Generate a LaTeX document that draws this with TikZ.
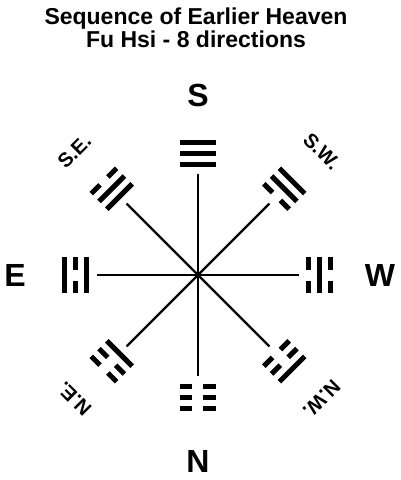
\documentclass[tikz,border=0pt]{standalone}
\usepackage{fontspec}
\setmainfont{Liberation Sans}
\usetikzlibrary{positioning}

\tikzset{
  conn/.style={line width=2.2pt, black},
  yaoline/.style={line width=5pt, black},
  title/.style={font=\fontsize{23}{23}\selectfont\bfseries, anchor=base},
  cardinal/.style={font=\fontsize{32}{32}\selectfont\bfseries},
  diagonal/.style={font=\fontsize{20}{20}\selectfont\bfseries}
}

% one line of a trigram: #1 radius, #2 = 1 solid, 0 broken
\newcommand{\yao}[2]{%
  \ifnum#2=1
    \draw[yaoline] (#1,-18) -- (#1,18);
  \else
    \draw[yaoline] (#1,-18) -- (#1,-5.5);
    \draw[yaoline] (#1,5.5) -- (#1,18);
  \fi}

\begin{document}
\begin{tikzpicture}[x=1pt, y=1pt]

\useasboundingbox (-198,-205) rectangle (202,275);

%title
\node[title] (t1) at (-2,251) {Sequence of Earlier Heaven};
\node[title] (t2) at (-2,228) {Fu Hsi - 8 directions};

%centre and connectors
\coordinate (c) at (0,0);
\foreach \ang in {0,45,...,315}{
  \coordinate (e\ang) at (\ang:101);
  \draw[conn] (c) -- (e\ang);
}

%trigrams, lines listed from inside to outside
\foreach \ang/\a/\b/\c in {90/1/1/1, 45/0/1/1, 0/0/1/0, -45/0/0/1,
                           -90/0/0/0, -135/1/0/0, 180/1/0/1, 135/1/1/0}{
  \begin{scope}[rotate=\ang]
    \yao{111}{\a}
    \yao{122}{\b}
    \yao{133}{\c}
  \end{scope}
}

%labels
\node[cardinal] (s) at (90:180) {S};
\node[cardinal] (n) at (-90:186) {N};
\node[cardinal] (e) at (180:183) {E};
\node[cardinal] (w) at (0:182) {W};
\foreach \ang/\lab in {45/S.W., 135/S.E., -135/N.E., -45/N.W.}{
  \node[diagonal, rotate=\ang-90] (l\ang) at (\ang:175) {\lab};
}

\end{tikzpicture}
\end{document}
